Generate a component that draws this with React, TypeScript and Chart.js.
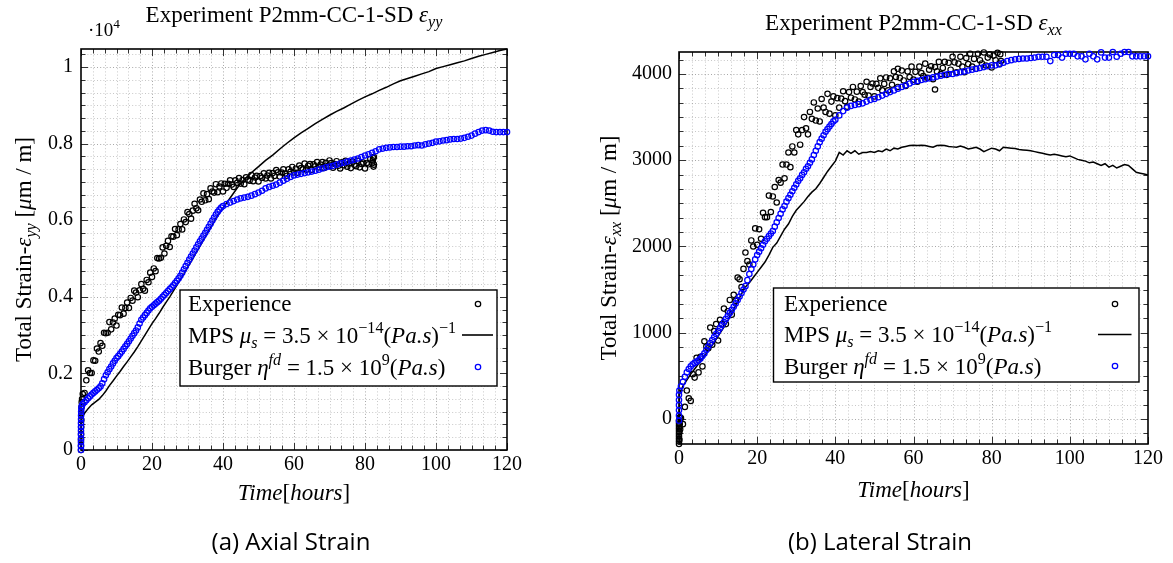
import React, { useEffect, useRef } from 'react';
import { Chart, registerables } from 'chart.js';

Chart.register(...registerables);

const SERIF = '"Liberation Serif", "Times New Roman", serif';
const H = 563;

// ---------------- sample times ----------------
const halfHours = [
  0.5, 1, 1.5, 2, 2.5, 3, 3.5, 4, 4.5, 5, 5.5, 6, 6.5, 7, 7.5, 8, 8.5, 9, 9.5, 10,
  10.5, 11, 11.5, 12, 12.5, 13, 13.5, 14, 14.5, 15, 15.5, 16, 16.5, 17, 17.5, 18, 18.5, 19, 19.5, 20,
  20.5, 21, 21.5, 22, 22.5, 23, 23.5, 24, 24.5, 25, 25.5, 26, 26.5, 27, 27.5, 28, 28.5, 29, 29.5, 30,
  30.5, 31, 31.5, 32, 32.5, 33, 33.5, 34, 34.5, 35, 35.5, 36, 36.5, 37, 37.5, 38, 38.5, 39, 39.5, 40,
  40.5, 41, 41.5, 42, 42.5, 43, 43.5, 44, 44.5, 45, 45.5, 46, 46.5, 47, 47.5, 48, 48.5, 49, 49.5, 50,
  50.5, 51, 51.5, 52, 52.5, 53, 53.5, 54, 54.5, 55, 55.5, 56, 56.5, 57, 57.5, 58, 58.5, 59, 59.5, 60,
  60.5, 61, 61.5, 62, 62.5, 63, 63.5, 64, 64.5, 65, 65.5, 66, 66.5, 67, 67.5, 68, 68.5, 69, 69.5, 70,
  70.5, 71, 71.5, 72, 72.5, 73, 73.5, 74, 74.5, 75, 75.5, 76, 76.5, 77, 77.5, 78, 78.5, 79, 79.5, 80,
  80.5, 81, 81.5, 82,
];
const wholeHours = [
  1, 2, 3, 4, 5, 6, 7, 8, 9, 10, 11, 12, 13, 14, 15, 16, 17, 18, 19, 20,
  21, 22, 23, 24, 25, 26, 27, 28, 29, 30, 31, 32, 33, 34, 35, 36, 37, 38, 39, 40,
  41, 42, 43, 44, 45, 46, 47, 48, 49, 50, 51, 52, 53, 54, 55, 56, 57, 58, 59, 60,
  61, 62, 63, 64, 65, 66, 67, 68, 69, 70, 71, 72, 73, 74, 75, 76, 77, 78, 79, 80,
  81, 82, 83, 84, 85, 86, 87, 88, 89, 90, 91, 92, 93, 94, 95, 96, 97, 98, 99, 100,
  101, 102, 103, 104, 105, 106, 107, 108, 109, 110, 111, 112, 113, 114, 115, 116, 117, 118, 119, 120,
];

// ---------------- axial strain (eps_yy, um/m) ----------------
const axialExpTime = [
  0, 0, 0, 0.02, 0.05, 0.08, 0.1, 0.15, 0.2, 0.3,
  ...halfHours,
  82.2, 82.3, 82.4, 82.5, 82.5,
];
const axialExpStrain = [
  0, 120, 260, 420, 600, 780, 950, 1120, 1250, 1330,
  1460, 1490, 1820, 2080, 2010, 2010, 2340, 2330, 2650, 2570,
  2790, 2720, 3060, 3050, 3060, 3340, 3150, 3330, 3430, 3250,
  3530, 3520, 3720, 3560, 3710, 3850, 3710, 3970, 3900, 4160,
  4110, 3990, 4170, 4330, 4210, 4160, 4440, 4380, 4630, 4520,
  4740, 4670, 5010, 5000, 5020, 5290, 5130, 5330, 5460, 5300,
  5580, 5570, 5770, 5610, 5760, 5900, 5760, 6020, 5950, 6210,
  6160, 6040, 6250, 6430, 6310, 6260, 6540, 6480, 6700, 6520,
  6680, 6550, 6830, 6750, 6720, 6940, 6730, 6880, 6960, 6750,
  6950, 6845, 6950, 7040, 6930, 6870, 7040, 6975, 7100, 6955,
  7050, 6940, 7120, 7055, 7030, 7180, 7020, 7115, 7160, 7010,
  7155, 7110, 7225, 7090, 7165, 7235, 7090, 7230, 7155, 7310,
  7250, 7140, 7245, 7330, 7220, 7160, 7330, 7265, 7390, 7245,
  7345, 7240, 7425, 7360, 7330, 7480, 7320, 7420, 7463, 7315,
  7457, 7410, 7520, 7380, 7450, 7520, 7365, 7500, 7415, 7560,
  7490, 7370, 7465, 7540, 7420, 7350, 7510, 7435, 7550, 7395,
  7480, 7360, 7530, 7450, 7410, 7550, 7380, 7470, 7505, 7350,
  7495, 7460, 7605, 7490,
  7560, 7620, 7400, 7650, 7450,
];

const axialMpsTime = [
  0, 0.1, 0.5, 1, 2, 3, 4, 5, 6, 7, 8, 9, 10, 11, 12, 13, 14, 15, 16, 17, 18, 19, 20,
  21, 22, 23, 24, 25, 26, 27, 28, 29, 30, 31, 32, 33, 34, 35, 36, 37, 38, 39, 40,
  41, 42, 43, 44, 45, 46, 47, 48, 49, 50, 52, 54, 56, 58, 60, 62, 64, 66, 68, 70,
  72, 74, 76, 78, 80, 82, 84, 86, 88, 90, 92, 94, 96, 98, 100, 102, 104, 106, 108, 110,
  112, 114, 116, 118, 120,
];
const axialMpsStrain = [
  0, 750, 900, 960, 1080, 1180, 1250, 1320, 1420, 1540, 1680, 1800, 1930, 2050, 2180, 2300, 2430, 2560, 2700, 2850, 3000, 3150, 3300,
  3430, 3570, 3720, 3860, 4000, 4150, 4300, 4450, 4600, 4760, 4920, 5080, 5240, 5400, 5560, 5720, 5880, 6040, 6180, 6320,
  6450, 6580, 6710, 6840, 6960, 7060, 7150, 7240, 7320, 7400, 7560, 7700, 7860, 8010, 8150, 8280, 8400, 8520, 8630, 8740,
  8840, 8930, 9030, 9130, 9220, 9300, 9390, 9470, 9560, 9640, 9700, 9760, 9820, 9880, 9960, 10010, 10060, 10110, 10160, 10220,
  10280, 10330, 10380, 10430, 10470,
];

const axialBurgerTime = [
  0, 0, 0, 0, 0, 0, 0, 0, 0.02, 0.03, 0.05, 0.1, 0.2,
  ...halfHours.slice(0, 80),
  ...wholeHours.slice(40),
];
const axialBurgerStrain = [
  0, 100, 200, 300, 400, 500, 600, 700, 800, 900, 1000, 1080, 1150,
  1200, 1250, 1300, 1350, 1400, 1450, 1490, 1530, 1570, 1610,
  1660, 1740, 1850, 1950, 2030, 2110, 2180, 2260, 2330, 2400,
  2450, 2510, 2570, 2640, 2710, 2770, 2840, 2910, 2980, 3050,
  3120, 3200, 3300, 3400, 3460, 3520, 3580, 3640, 3700, 3740,
  3780, 3820, 3860, 3900, 3950, 4000, 4050, 4100, 4150, 4200,
  4250, 4300, 4360, 4420, 4480, 4550, 4630, 4720, 4800, 4890,
  4970, 5050, 5130, 5210, 5290, 5370, 5450, 5520, 5600, 5670,
  5750, 5830, 5910, 5990, 6070, 6150, 6220, 6280, 6330, 6370,
  6420, 6460, 6500, 6540, 6570, 6590, 6610, 6640, 6680, 6720,
  6770, 6830, 6870, 6900, 6930, 6980, 7030, 7080, 7130, 7170,
  7190, 7210, 7230, 7250, 7270, 7290, 7320, 7350, 7380, 7400,
  7420, 7450, 7480, 7500, 7530, 7560, 7580, 7610, 7650, 7690,
  7720, 7760, 7800, 7850, 7870, 7890, 7900, 7910, 7910, 7920,
  7920, 7930, 7930, 7950, 7960, 7950, 7980, 8000, 8020, 8050,
  8060, 8080, 8090, 8110, 8120, 8120, 8130, 8150, 8180, 8210,
  8260, 8300, 8340, 8350, 8340, 8310, 8300, 8300, 8300, 8300,
];

// ---------------- lateral strain (eps_xx, um/m) ----------------
const lateralExpTime = [
  0, 0, 0, 0, 0, 0, 0, 0, 0, 0, 0.1, 0.1, 0.2, 0.2, 0.3,
  ...halfHours,
  56, 65.5, 82.2, 82.4,
];
const lateralExpStrain = [
  -290, -260, -230, -200, -170, -140, -110, -80, -50, -20, -240, -150, -60, 20, -120,
  10, -60, 140, 330, 240, 210, 520, 480, 710, 540,
  720, 610, 900, 840, 820, 1060, 860, 1020, 1100, 910,
  1150, 1100, 1280, 1100, 1250, 1380, 1210, 1440, 1370, 1640,
  1620, 1530, 1740, 1930, 1830, 1790, 2070, 2000, 2210, 2020,
  2200, 2090, 2390, 2340, 2340, 2590, 2400, 2580, 2690, 2510,
  2770, 2740, 2950, 2790, 2950, 3090, 2920, 3160, 3090, 3350,
  3300, 3180, 3350, 3500, 3370, 3300, 3560, 3480, 3670, 3460,
  3600, 3450, 3710, 3610, 3560, 3770, 3540, 3680, 3740, 3520,
  3720, 3610, 3715, 3800, 3685, 3620, 3790, 3725, 3850, 3705,
  3795, 3680, 3860, 3790, 3760, 3910, 3750, 3850, 3890, 3740,
  3885, 3840, 3950, 3810, 3885, 3960, 3810, 3950, 3875, 4030,
  3965, 3850, 3955, 4040, 3925, 3860, 4030, 3965, 4085, 3935,
  4025, 3910, 4085, 4010, 3975, 4120, 3955, 4050, 4090, 3940,
  4080, 4030, 4140, 4000, 4070, 4140, 3990, 4130, 4050, 4200,
  4135, 4020, 4120, 4200, 4085, 4020, 4185, 4115, 4235, 4085,
  4175, 4060, 4235, 4160, 4122, 4250, 4098, 4190, 4227, 4075,
  4213, 4160, 4245, 4120,
  4060, 3820, 4230, 4150,
];

const lateralMpsTime = [0, 0.1, 0.5, ...wholeHours];
const lateralMpsStrain = [
  0, 280, 330,
  380, 450, 520, 580, 640, 700, 760, 820, 890, 960,
  1030, 1100, 1180, 1270, 1360, 1450, 1530, 1580, 1640, 1700,
  1760, 1820, 1900, 1990, 2040, 2120, 2200, 2260, 2350, 2420,
  2470, 2520, 2580, 2630, 2670, 2730, 2800, 2870, 2930, 2990,
  3090, 3060, 3110, 3080, 3110, 3070, 3090, 3090, 3100, 3090,
  3110, 3100, 3130, 3110, 3140, 3130, 3150, 3160, 3170, 3175,
  3170, 3175, 3170, 3160, 3150, 3170, 3175, 3170, 3160, 3155,
  3150, 3165, 3150, 3130, 3140, 3150, 3130, 3100, 3120, 3140,
  3130, 3110, 3150, 3145, 3140, 3135, 3125, 3120, 3115, 3110,
  3100, 3090, 3080, 3070, 3060, 3070, 3060, 3050, 3040, 3050,
  3030, 3010, 3000, 2990, 2970, 2980, 2960, 2940, 2960, 2920,
  2940, 2910, 2930, 2950, 2940, 2900, 2860, 2850, 2840, 2830,
];

const lateralBurgerTime = [
  0, 0, 0, 0, 0, 0, 0.1,
  ...halfHours.slice(0, 80),
  ...wholeHours.slice(40),
];
const lateralBurgerStrain = [
  -20, 40, 100, 160, 220, 280, 330,
  380, 430, 490, 540, 580, 610, 635, 650, 665, 680,
  700, 730, 760, 800, 840, 880, 915, 950, 985, 1020,
  1055, 1090, 1125, 1160, 1195, 1230, 1265, 1300, 1340, 1380,
  1420, 1460, 1500, 1540, 1610, 1680, 1740, 1790, 1850, 1900,
  1940, 1980, 2020, 2060, 2090, 2120, 2150, 2180, 2230, 2280,
  2330, 2380, 2430, 2470, 2520, 2560, 2600, 2640, 2680, 2720,
  2760, 2790, 2830, 2860, 2900, 2930, 2970, 3010, 3060, 3110,
  3160, 3210, 3250, 3290, 3330, 3360, 3390, 3420, 3450, 3470,
  3520, 3570, 3610, 3630, 3640, 3650, 3660, 3680, 3700, 3710,
  3730, 3750, 3770, 3790, 3810, 3830, 3850, 3870, 3890, 3910,
  3920, 3930, 3940, 3950, 3960, 3970, 3980, 3990, 4000, 4000,
  4010, 4020, 4030, 4040, 4050, 4060, 4070, 4080, 4090, 4100,
  4100, 4110, 4130, 4150, 4160, 4170, 4175, 4180, 4180, 4185,
  4190, 4200, 4200, 4200, 4150, 4220, 4220, 4190, 4235, 4235,
  4235, 4205, 4205, 4170, 4235, 4205, 4170, 4250, 4190, 4190,
  4255, 4200, 4235, 4255, 4255, 4205, 4205, 4205, 4205, 4205,
];

// ---------------- ticks ----------------
const xTicks = [0, 20, 40, 60, 80, 100, 120];
const xTickLabels = ['0', '20', '40', '60', '80', '100', '120'];
const axialYTicks = [0, 2000, 4000, 6000, 8000, 10000];
const axialYTickLabels = ['0', '0.2', '0.4', '0.6', '0.8', '1'];
const lateralYTicks = [0, 1000, 2000, 3000, 4000];
const lateralYTickLabels = ['0', '1000', '2000', '3000', '4000'];

// ---------------- text (rich segments) ----------------
type Seg = { t: string; i?: boolean; b?: 'sub' | 'sup' };
const axialTitle: Seg[] = [{ t: 'Experiment P2mm-CC-1-SD ' }, { t: 'ε', i: true }, { t: 'yy', i: true, b: 'sub' }];
const lateralTitle: Seg[] = [{ t: 'Experiment P2mm-CC-1-SD ' }, { t: 'ε', i: true }, { t: 'xx', i: true, b: 'sub' }];
const axialYTitle: Seg[] = [{ t: 'Total Strain-' }, { t: 'ε', i: true }, { t: 'yy', i: true, b: 'sub' }, { t: ' [' }, { t: 'μ', i: true }, { t: 'm / m]' }];
const lateralYTitle: Seg[] = [{ t: 'Total Strain-' }, { t: 'ε', i: true }, { t: 'xx', i: true, b: 'sub' }, { t: ' [' }, { t: 'μ', i: true }, { t: 'm / m]' }];
const xTitle: Seg[] = [{ t: 'Time', i: true }, { t: '[' }, { t: 'hours', i: true }, { t: ']' }];
const legendRows: Seg[][] = [
  [{ t: 'Experience' }],
  [{ t: 'MPS ' }, { t: 'μ', i: true }, { t: 's', i: true, b: 'sub' }, { t: ' = 3.5 × 10' }, { t: '−14', b: 'sup' }, { t: '(' }, { t: 'Pa.s', i: true }, { t: ')' }, { t: '−1', b: 'sup' }],
  [{ t: 'Burger ' }, { t: 'η', i: true }, { t: 'fd', i: true, b: 'sup' }, { t: ' = 1.5 × 10' }, { t: '9', b: 'sup' }, { t: '(' }, { t: 'Pa.s', i: true }, { t: ')' }],
];
const scaleNote: Seg[] = [{ t: '·10' }, { t: '4', b: 'sup' }];

function segFont(s: Seg, size: number) {
  const sz = s.b ? size * 0.7 : size;
  return `${s.i ? 'italic ' : ''}${sz}px ${SERIF}`;
}
function drawRich(ctx: CanvasRenderingContext2D, segs: Seg[], x: number, y: number, size: number, align: 'left' | 'center') {
  let w = 0;
  for (const s of segs) { ctx.font = segFont(s, size); w += ctx.measureText(s.t).width; }
  let cx = align === 'center' ? x - w / 2 : x;
  ctx.textAlign = 'left';
  ctx.textBaseline = 'alphabetic';
  for (const s of segs) {
    ctx.font = segFont(s, size);
    const dy = s.b === 'sub' ? size * 0.22 : s.b === 'sup' ? -size * 0.42 : 0;
    ctx.fillText(s.t, cx, y + dy);
    cx += ctx.measureText(s.t).width;
  }
}

const BLUE = '#0000ff';

const axialPanel = {
  width: 586,
  area: { l: 81, r: 507, t: 49, b: 450 },
  yMin: 0, yMax: 10470, yTicks: axialYTicks, yTickLabels: axialYTickLabels, yMinor: 2000 / 6, yTickPad: 8,
  exp: [axialExpTime, axialExpStrain], mps: [axialMpsTime, axialMpsStrain], bur: [axialBurgerTime, axialBurgerStrain],
  title: axialTitle, titleBase: 22,
  yTitle: axialYTitle, yTitleX: 31,
  xTitleBase: 500,
  legend: { l: 180, r: 497, t: 290, b: 386, textX: 188, markX: 478, lineL: 462, lineR: 493, base: [311, 342.5, 374.5], mid: [304, 335, 367] },
  note: true,
};
const lateralPanel = {
  width: 587,
  area: { l: 93, r: 562, t: 52, b: 444 },
  yMin: -290, yMax: 4255, yTicks: lateralYTicks, yTickLabels: lateralYTickLabels, yMinor: 1000 / 6, yTickPad: 7,
  exp: [lateralExpTime, lateralExpStrain], mps: [lateralMpsTime, lateralMpsStrain], bur: [lateralBurgerTime, lateralBurgerStrain],
  title: lateralTitle, titleBase: 29.5,
  yTitle: lateralYTitle, yTitleX: 30,
  xTitleBase: 497,
  legend: { l: 187.5, r: 553, t: 288, b: 382, textX: 198, markX: 529, lineL: 512, lineR: 545.5, base: [310.5, 342, 373.5], mid: [304, 334.5, 366] },
  note: false,
};

type Panel = typeof axialPanel;

function pgfPlugin(p: Panel) {
  return {
    id: 'pgfAxis',
    beforeDatasetsDraw(chart: any) {
      const { ctx, chartArea: a, scales } = chart;
      const xs = scales.x, ys = scales.y;
      const xVals: { px: number; major: boolean }[] = [];
      for (let k = 0; k <= 36; k++) xVals.push({ px: xs.getPixelForValue((k * 20) / 6), major: k % 6 === 0 });
      const yVals: { py: number; major: boolean }[] = [];
      const k0 = Math.ceil(p.yMin / p.yMinor - 1e-6), k1 = Math.floor(p.yMax / p.yMinor + 1e-6);
      for (let k = k0; k <= k1; k++) yVals.push({ py: ys.getPixelForValue(k * p.yMinor), major: k % 6 === 0 });
      ctx.save();
      // grid
      ctx.lineWidth = 1;
      ctx.setLineDash([1, 2.2]);
      for (const v of xVals) {
        if (v.px <= a.left + 1 || v.px >= a.right - 1) continue;
        const x = Math.round(v.px) + 0.5;
        ctx.strokeStyle = v.major ? 'rgba(0,0,0,0.34)' : 'rgba(0,0,0,0.22)';
        ctx.beginPath(); ctx.moveTo(x, a.top); ctx.lineTo(x, a.bottom); ctx.stroke();
      }
      for (const v of yVals) {
        if (v.py <= a.top + 1 || v.py >= a.bottom - 1) continue;
        const y = Math.round(v.py) + 0.5;
        ctx.strokeStyle = v.major ? 'rgba(0,0,0,0.34)' : 'rgba(0,0,0,0.22)';
        ctx.beginPath(); ctx.moveTo(a.left, y); ctx.lineTo(a.right, y); ctx.stroke();
      }
      // tick marks (inward, all four sides)
      ctx.setLineDash([]);
      ctx.strokeStyle = '#333';
      for (const v of xVals) {
        const x = Math.round(v.px) + 0.5, len = v.major ? 7 : 4.5;
        ctx.beginPath();
        ctx.moveTo(x, a.bottom); ctx.lineTo(x, a.bottom - len);
        ctx.moveTo(x, a.top); ctx.lineTo(x, a.top + len);
        ctx.stroke();
      }
      for (const v of yVals) {
        const y = Math.round(v.py) + 0.5, len = v.major ? 7 : 4.5;
        ctx.beginPath();
        ctx.moveTo(a.left, y); ctx.lineTo(a.left + len, y);
        ctx.moveTo(a.right, y); ctx.lineTo(a.right - len, y);
        ctx.stroke();
      }
      // frame
      ctx.strokeStyle = '#000';
      ctx.lineWidth = 1.6;
      ctx.strokeRect(a.left, a.top, a.right - a.left, a.bottom - a.top);
      ctx.restore();
    },
    afterDatasetsDraw(chart: any) {
      const { ctx, chartArea: a } = chart;
      const cx = (a.left + a.right) / 2;
      ctx.save();
      ctx.fillStyle = '#000';
      drawRich(ctx, p.title, cx, p.titleBase, 23, 'center');
      drawRich(ctx, xTitle, cx, p.xTitleBase, 23, 'center');
      if (p.note) drawRich(ctx, scaleNote, 88, 36, 19, 'left');
      ctx.save();
      ctx.translate(p.yTitleX, (a.top + a.bottom) / 2);
      ctx.rotate(-Math.PI / 2);
      drawRich(ctx, p.yTitle, 0, 0, 23, 'center');
      ctx.restore();
      // legend
      const L = p.legend;
      ctx.fillStyle = '#fff';
      ctx.fillRect(L.l, L.t, L.r - L.l, L.b - L.t);
      ctx.strokeStyle = '#000';
      ctx.lineWidth = 1.4;
      ctx.strokeRect(L.l, L.t, L.r - L.l, L.b - L.t);
      ctx.fillStyle = '#000';
      legendRows.forEach((row, i) => drawRich(ctx, row, L.textX, L.base[i], 23, 'left'));
      ctx.lineWidth = 1.25;
      ctx.beginPath(); ctx.arc(L.markX, L.mid[0], 2.7, 0, Math.PI * 2); ctx.strokeStyle = '#000'; ctx.stroke();
      ctx.lineWidth = 1.6;
      ctx.beginPath(); ctx.moveTo(L.lineL, L.mid[1]); ctx.lineTo(L.lineR, L.mid[1]); ctx.stroke();
      ctx.lineWidth = 1.25;
      ctx.beginPath(); ctx.arc(L.markX, L.mid[2], 2.7, 0, Math.PI * 2); ctx.strokeStyle = BLUE; ctx.stroke();
      ctx.restore();
    },
  };
}

function toXY(t: number[], v: number[]) {
  return t.map((x, i) => ({ x, y: v[i] }));
}

function makeConfig(p: Panel): any {
  return {
    type: 'scatter',
    data: {
      datasets: [
        {
          label: 'Experience', data: toXY(p.exp[0], p.exp[1]), showLine: false,
          pointStyle: 'circle', pointRadius: 2.7, pointBorderWidth: 1.2,
          pointBorderColor: '#000', pointBackgroundColor: 'rgba(0,0,0,0)',
          borderColor: '#000', backgroundColor: 'rgba(0,0,0,0)', order: 3, clip: false,
        },
        {
          label: 'MPS', data: toXY(p.mps[0], p.mps[1]), showLine: true, pointRadius: 0,
          borderColor: '#000', borderWidth: 1.5, backgroundColor: 'rgba(0,0,0,0)', tension: 0, order: 2, clip: false,
        },
        {
          label: 'Burger', data: toXY(p.bur[0], p.bur[1]), showLine: false,
          pointStyle: 'circle', pointRadius: 2.7, pointBorderWidth: 1.25,
          pointBorderColor: BLUE, pointBackgroundColor: 'rgba(0,0,0,0)',
          borderColor: BLUE, backgroundColor: 'rgba(0,0,0,0)', order: 1, clip: false,
        },
      ],
    },
    options: {
      responsive: false,
      animation: false,
      devicePixelRatio: 1,
      events: [],
      layout: { padding: { left: 0, right: p.width - p.area.r, top: p.area.t, bottom: H - p.area.b - 30 } },
      plugins: { legend: { display: false }, tooltip: { enabled: false }, title: { display: false } },
      scales: {
        x: {
          type: 'linear', position: 'bottom', min: 0, max: 120,
          afterBuildTicks: (s: any) => { s.ticks = xTicks.map((value) => ({ value })); },
          afterFit: (s: any) => { s.height = 30; },
          ticks: {
            callback: (_v: any, i: number) => xTickLabels[i],
            font: { family: SERIF, size: 20 }, color: '#000', padding: 3, maxRotation: 0, minRotation: 0, autoSkip: false,
          },
          grid: { display: false, drawTicks: false },
          border: { display: false },
        },
        y: {
          type: 'linear', position: 'left', min: p.yMin, max: p.yMax,
          afterBuildTicks: (s: any) => { s.ticks = p.yTicks.map((value) => ({ value })); },
          afterFit: (s: any) => { s.width = p.area.l; },
          ticks: {
            callback: (_v: any, i: number) => p.yTickLabels[i],
            font: { family: SERIF, size: 20 }, color: '#000', padding: p.yTickPad, autoSkip: false,
          },
          grid: { display: false, drawTicks: false },
          border: { display: false },
        },
      },
    },
    plugins: [pgfPlugin(p)],
  };
}

const captionStyle: React.CSSProperties = {
  position: 'absolute', top: 526, height: 30, lineHeight: '30px', textAlign: 'center',
  fontFamily: '"Open Sans", Lato, sans-serif', fontSize: 24, color: '#000',
};

export default function App() {
  const leftRef = useRef<HTMLCanvasElement>(null);
  const rightRef = useRef<HTMLCanvasElement>(null);
  useEffect(() => {
    const c1 = new Chart(leftRef.current as HTMLCanvasElement, makeConfig(axialPanel));
    const c2 = new Chart(rightRef.current as HTMLCanvasElement, makeConfig(lateralPanel));
    return () => { c1.destroy(); c2.destroy(); };
  }, []);
  return (
    <div style={{ position: 'absolute', left: 0, top: 0, width: 1173, height: H, background: '#fff', overflow: 'hidden' }}>
      <canvas ref={leftRef} width={586} height={H} style={{ position: 'absolute', left: 0, top: 0, display: 'block' }} />
      <canvas ref={rightRef} width={587} height={H} style={{ position: 'absolute', left: 586, top: 0, display: 'block' }} />
      <div style={{ ...captionStyle, left: 0, width: 582 }}>(a) Axial Strain</div>
      <div style={{ ...captionStyle, left: 586, width: 588 }}>(b) Lateral Strain</div>
    </div>
  );
}
